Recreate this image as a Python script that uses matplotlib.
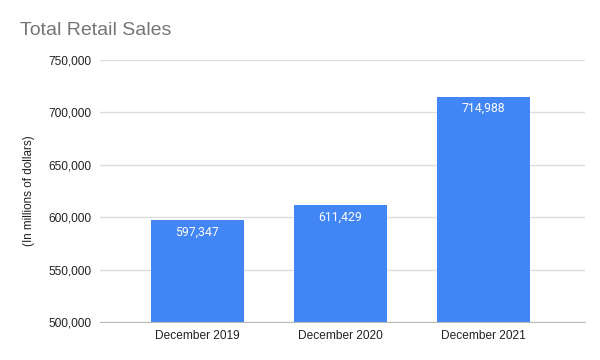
import matplotlib.pyplot as plt
from matplotlib.ticker import FuncFormatter

categories = ["December 2019", "December 2020", "December 2021"]
sales = [597347, 611429, 714988]
y_ticks = [500000, 550000, 600000, 650000, 700000, 750000]

plt.rcParams['font.family'] = ['Liberation Sans', 'DejaVu Sans']

fig = plt.figure(figsize=(6, 3.6), dpi=100)
ax = fig.add_axes([0.1667, 0.1056, 0.808, 0.7278])

x = range(len(categories))
bars = ax.bar(x, sales, width=0.65, color='#4285f4', zorder=3)

# value labels sit just inside the top of each bar
for b, v in zip(bars, sales):
   ax.annotate(f"{v:,}", xy=(b.get_x() + b.get_width() / 2, v),
               xytext=(0, -4), textcoords='offset points',
               ha='center', va='top', color='white', fontsize=8.8,
               family=['Roboto', 'DejaVu Sans'], zorder=4)

ax.set_ylim(500000, 750000)
ax.set_xlim(-0.68, 2.71)
ax.set_yticks(y_ticks)
ax.yaxis.set_major_formatter(FuncFormatter(lambda v, p: f"{int(v):,}"))
ax.set_xticks(list(x))
ax.set_xticklabels(categories)
ax.tick_params(axis='both', length=0, labelsize=8.6, colors='#222222')
ax.tick_params(axis='y', pad=6)
ax.tick_params(axis='x', pad=6)

ax.grid(axis='y', color='#dddddd', linewidth=1, zorder=0)
for s in ['top', 'right', 'left']:
   ax.spines[s].set_visible(False)
ax.spines['bottom'].set_color('#bbbbbb')
ax.spines['bottom'].set_zorder(5)

ax.set_ylabel("(In millions of dollars)", fontsize=8.4, color='#222222', labelpad=10)
fig.text(0.033, 0.915, "Total Retail Sales", fontsize=14, color='#757575',
         ha='left', va='center')

fig.savefig("out.png", dpi=100)
